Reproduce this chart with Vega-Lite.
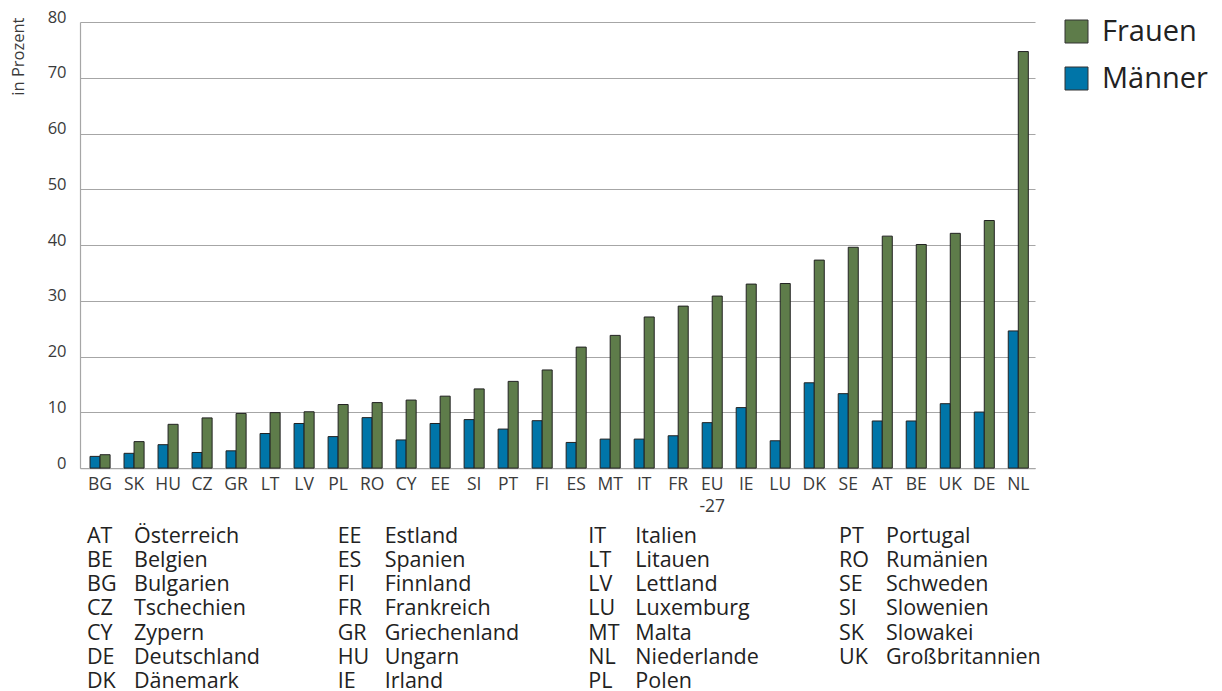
{
  "$schema": "https://vega.github.io/schema/vega-lite/v6.json",
  "padding": {"left": 10, "top": 9, "right": 5, "bottom": 0},
  "background": "white",
  "config": {"view": {"stroke": null}, "font": "Open Sans"},
  "datasets": {
    "bars": [
      {"land": "BG", "geschlecht": "Männer", "wert": 2.1}, {"land": "BG", "geschlecht": "Frauen", "wert": 2.4},
      {"land": "SK", "geschlecht": "Männer", "wert": 2.65}, {"land": "SK", "geschlecht": "Frauen", "wert": 4.75},
      {"land": "HU", "geschlecht": "Männer", "wert": 4.2}, {"land": "HU", "geschlecht": "Frauen", "wert": 7.85},
      {"land": "CZ", "geschlecht": "Männer", "wert": 2.8}, {"land": "CZ", "geschlecht": "Frauen", "wert": 9.0},
      {"land": "GR", "geschlecht": "Männer", "wert": 3.1}, {"land": "GR", "geschlecht": "Frauen", "wert": 9.8},
      {"land": "LT", "geschlecht": "Männer", "wert": 6.2}, {"land": "LT", "geschlecht": "Frauen", "wert": 9.95},
      {"land": "LV", "geschlecht": "Männer", "wert": 8.0}, {"land": "LV", "geschlecht": "Frauen", "wert": 10.1},
      {"land": "PL", "geschlecht": "Männer", "wert": 5.65}, {"land": "PL", "geschlecht": "Frauen", "wert": 11.4},
      {"land": "RO", "geschlecht": "Männer", "wert": 9.05}, {"land": "RO", "geschlecht": "Frauen", "wert": 11.75},
      {"land": "CY", "geschlecht": "Männer", "wert": 5.05}, {"land": "CY", "geschlecht": "Frauen", "wert": 12.2},
      {"land": "EE", "geschlecht": "Männer", "wert": 8.0}, {"land": "EE", "geschlecht": "Frauen", "wert": 12.9},
      {"land": "SI", "geschlecht": "Männer", "wert": 8.7}, {"land": "SI", "geschlecht": "Frauen", "wert": 14.2},
      {"land": "PT", "geschlecht": "Männer", "wert": 7.0}, {"land": "PT", "geschlecht": "Frauen", "wert": 15.55},
      {"land": "FI", "geschlecht": "Männer", "wert": 8.5}, {"land": "FI", "geschlecht": "Frauen", "wert": 17.6},
      {"land": "ES", "geschlecht": "Männer", "wert": 4.6}, {"land": "ES", "geschlecht": "Frauen", "wert": 21.7},
      {"land": "MT", "geschlecht": "Männer", "wert": 5.2}, {"land": "MT", "geschlecht": "Frauen", "wert": 23.8},
      {"land": "IT", "geschlecht": "Männer", "wert": 5.2}, {"land": "IT", "geschlecht": "Frauen", "wert": 27.1},
      {"land": "FR", "geschlecht": "Männer", "wert": 5.8}, {"land": "FR", "geschlecht": "Frauen", "wert": 29.05},
      {"land": "EU-27", "geschlecht": "Männer", "wert": 8.15}, {"land": "EU-27", "geschlecht": "Frauen", "wert": 30.85},
      {"land": "IE", "geschlecht": "Männer", "wert": 10.85}, {"land": "IE", "geschlecht": "Frauen", "wert": 33.0},
      {"land": "LU", "geschlecht": "Männer", "wert": 4.9}, {"land": "LU", "geschlecht": "Frauen", "wert": 33.1},
      {"land": "DK", "geschlecht": "Männer", "wert": 15.3}, {"land": "DK", "geschlecht": "Frauen", "wert": 37.3},
      {"land": "SE", "geschlecht": "Männer", "wert": 13.35}, {"land": "SE", "geschlecht": "Frauen", "wert": 39.6},
      {"land": "AT", "geschlecht": "Männer", "wert": 8.45}, {"land": "AT", "geschlecht": "Frauen", "wert": 41.6},
      {"land": "BE", "geschlecht": "Männer", "wert": 8.45}, {"land": "BE", "geschlecht": "Frauen", "wert": 40.1},
      {"land": "UK", "geschlecht": "Männer", "wert": 11.55}, {"land": "UK", "geschlecht": "Frauen", "wert": 42.1},
      {"land": "DE", "geschlecht": "Männer", "wert": 10.05}, {"land": "DE", "geschlecht": "Frauen", "wert": 44.4},
      {"land": "NL", "geschlecht": "Männer", "wert": 24.6}, {"land": "NL", "geschlecht": "Frauen", "wert": 74.7}
    ],
    "key": [
      {"code": "AT", "name": "Österreich", "spalte": 0, "zeile": 0},
      {"code": "BE", "name": "Belgien", "spalte": 0, "zeile": 1},
      {"code": "BG", "name": "Bulgarien", "spalte": 0, "zeile": 2},
      {"code": "CZ", "name": "Tschechien", "spalte": 0, "zeile": 3},
      {"code": "CY", "name": "Zypern", "spalte": 0, "zeile": 4},
      {"code": "DE", "name": "Deutschland", "spalte": 0, "zeile": 5},
      {"code": "DK", "name": "Dänemark", "spalte": 0, "zeile": 6},
      {"code": "EE", "name": "Estland", "spalte": 1, "zeile": 0},
      {"code": "ES", "name": "Spanien", "spalte": 1, "zeile": 1},
      {"code": "FI", "name": "Finnland", "spalte": 1, "zeile": 2},
      {"code": "FR", "name": "Frankreich", "spalte": 1, "zeile": 3},
      {"code": "GR", "name": "Griechenland", "spalte": 1, "zeile": 4},
      {"code": "HU", "name": "Ungarn", "spalte": 1, "zeile": 5},
      {"code": "IE", "name": "Irland", "spalte": 1, "zeile": 6},
      {"code": "IT", "name": "Italien", "spalte": 2, "zeile": 0},
      {"code": "LT", "name": "Litauen", "spalte": 2, "zeile": 1},
      {"code": "LV", "name": "Lettland", "spalte": 2, "zeile": 2},
      {"code": "LU", "name": "Luxemburg", "spalte": 2, "zeile": 3},
      {"code": "MT", "name": "Malta", "spalte": 2, "zeile": 4},
      {"code": "NL", "name": "Niederlande", "spalte": 2, "zeile": 5},
      {"code": "PL", "name": "Polen", "spalte": 2, "zeile": 6},
      {"code": "PT", "name": "Portugal", "spalte": 3, "zeile": 0},
      {"code": "RO", "name": "Rumänien", "spalte": 3, "zeile": 1},
      {"code": "SE", "name": "Schweden", "spalte": 3, "zeile": 2},
      {"code": "SI", "name": "Slowenien", "spalte": 3, "zeile": 3},
      {"code": "SK", "name": "Slowakei", "spalte": 3, "zeile": 4},
      {"code": "UK", "name": "Großbritannien", "spalte": 3, "zeile": 5}
    ]
  },
  "bounds": "flush",
  "spacing": 73.5,
  "vconcat": [
    {
      "width": 955,
      "height": 446.1,
      "data": {"name": "bars"},
      "mark": {"type": "bar", "stroke": "#222222", "strokeWidth": 1},
      "encoding": {
        "x": {
          "field": "land", "type": "nominal", "sort": null,
          "scale": {"paddingInner": 0.41, "paddingOuter": 0.2455, "align": 0.6},
          "axis": {
            "title": null, "labelAngle": 0, "ticks": false, "domainColor": "#a6a6a6", "domainWidth": 1.2,
            "labelFont": "Open Sans", "labelFontSize": 17.5, "labelColor": "#3a3a3a",
            "labelBaseline": "alphabetic", "labelPadding": 21.5, "labelLineHeight": 21.5,
            "labelExpr": "datum.value == 'EU-27' ? ['EU', '-27'] : datum.value"
          }
        },
        "xOffset": {"field": "geschlecht", "type": "nominal", "sort": ["Männer", "Frauen"]},
        "y": {
          "field": "wert", "type": "quantitative",
          "scale": {"domain": [0, 80], "nice": false},
          "axis": {
            "title": "in Prozent", "values": [0, 10, 20, 30, 40, 50, 60, 70, 80],
            "grid": true, "gridColor": "#a6a6a6", "gridWidth": 1.2,
            "domainColor": "#a6a6a6", "domainWidth": 1.2, "ticks": false,
            "labelFont": "Open Sans", "labelFontSize": 16.5, "labelColor": "#3a3a3a",
            "labelBaseline": "alphabetic", "labelPadding": 14,
            "titleFont": "Open Sans", "titleFontSize": 16.5, "titleFontWeight": "normal", "titleColor": "#3a3a3a",
            "titleX": -62, "titleY": -5, "titleAlign": "right", "titleBaseline": "middle", "titleAngle": -90
          }
        },
        "color": {
          "field": "geschlecht", "type": "nominal",
          "scale": {"domain": ["Frauen", "Männer"], "range": ["#5e7c4a", "#0075a8"]},
          "legend": {
            "title": null, "orient": "none", "legendX": 982, "legendY": -5,
            "symbolType": "square", "symbolSize": 529, "symbolStrokeColor": "#333333", "symbolStrokeWidth": 1,
            "labelFont": "Open Sans", "labelFontSize": 29, "labelColor": "#222222",
            "labelOffset": 11, "rowPadding": 17, "padding": 0, "symbolOpacity": 1
          }
        }
      }
    },
    {
      "width": 955,
      "height": 145.6,
      "data": {"name": "key"},
      "encoding": {
        "x": {"field": "spalte", "type": "quantitative", "scale": {"domain": [-0.028, 3.782], "nice": false, "zero": false}, "axis": null},
        "y": {"field": "zeile", "type": "quantitative", "scale": {"domain": [0, 6], "nice": false, "zero": false, "reverse": true}, "axis": null}
      },
      "layer": [
        {
          "mark": {"type": "text", "align": "left", "baseline": "alphabetic", "font": "Open Sans", "fontSize": 21.5, "color": "#222222"},
          "encoding": {"text": {"field": "code"}}
        },
        {
          "mark": {"type": "text", "align": "left", "baseline": "alphabetic", "font": "Open Sans", "fontSize": 21.5, "color": "#222222", "dx": 47},
          "encoding": {"text": {"field": "name"}}
        }
      ]
    }
  ]
}
